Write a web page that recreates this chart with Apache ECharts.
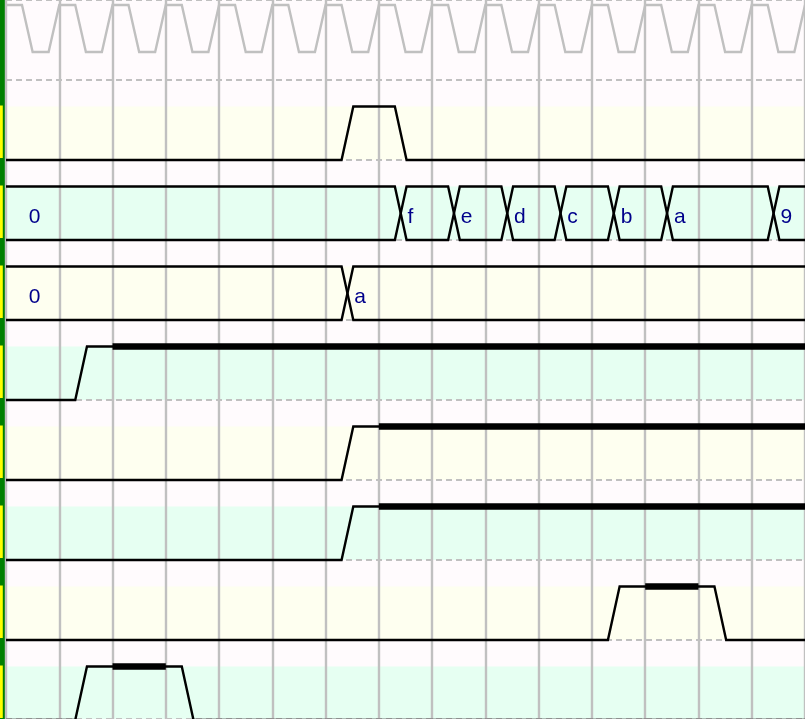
<!DOCTYPE html>
<html><head><meta charset="utf-8">
<script src="https://cdn.jsdelivr.net/npm/echarts@6/dist/echarts.min.js"></script>
<style>html,body{margin:0;padding:0;background:#fffbfd}#c{width:805px;height:719px}</style>
</head><body><div id="c"></div>
<script>
// ---------------- data ----------------
const clockEdges = [0,0.5,1,1.5,2,2.5,3,3.5,4,4.5,5,5.5,6,6.5,7,7.5,8,8.5,9,9.5,10,10.5,11,11.5,12,12.5,13,13.5,14,14.5];
const pulseEdges = [6, 7];
const busATimes  = [7, 8, 9, 10, 11, 12, 14];
const busALabels = ['0', 'f', 'e', 'd', 'c', 'b', 'a', '9'];
const busBTimes  = [6];
const busBLabels = ['0', 'a'];
const wire4Edges = [1];      const wire4Thick = [[2, 15]];
const wire5Edges = [6];      const wire5Thick = [[7, 15]];
const wire6Edges = [6];      const wire6Thick = [[7, 15]];
const wire7Edges = [11, 13]; const wire7Thick = [[12, 13]];
const wire8Edges = [1, 3];   const wire8Thick = [[2, 3]];
const bandRows = [1, 2, 3, 4, 5, 6, 7, 8];

// ---------------- layout / style ----------------
const T_END = 15;
const HIGH = 26.5 / 80, LOW = 1.0;
const CLK_HIGH = 5 / 80, CLK_LOW = 52 / 80;
const T0 = 0.3, TW = 0.22, TWC = 0.2;
const FIRST_LABEL_T = 0.41;
const bandColors = ['#fefff0', '#e6fff2'];
const ink = '#000000';
const THIN = 2.4, THICK = 6.5;

function yOf(row, lv) { return row + (lv ? HIGH : LOW); }

function wirePts(row, edges, init) {
  let lv = init || 0;
  const pts = [[0, yOf(row, lv)]];
  edges.forEach(e => {
    pts.push([e + T0, yOf(row, lv)]);
    lv ^= 1;
    pts.push([e + T0 + TW, yOf(row, lv)]);
  });
  pts.push([T_END, yOf(row, lv)]);
  return pts;
}
function clockPts(edges) {
  let lv = 1;
  const cy = l => l ? CLK_HIGH : CLK_LOW;
  const pts = [[0, cy(lv)]];
  edges.forEach(e => {
    pts.push([e + T0, cy(lv)]);
    lv ^= 1;
    pts.push([e + T0 + TWC, cy(lv)]);
  });
  pts.push([T_END, cy(lv)]);
  return pts;
}

const series = [];
// bands
series.push({
  type: 'custom', z: -1, silent: true, xAxisIndex: 0, yAxisIndex: 0,
  data: bandRows.map(r => [r]),
  renderItem(params, api) {
    const r = api.value(0);
    const p0 = api.coord([0, r + HIGH]);
    const p1 = api.coord([T_END, r + LOW]);
    return { type: 'rect', shape: { x: p0[0], y: p0[1], width: p1[0] - p0[0], height: p1[1] - p0[1] },
      style: { fill: bandColors[(r - 1) % 2] } };
  }
});
// left bar
series.push({
  type: 'custom', z: -1, silent: true, xAxisIndex: 1, yAxisIndex: 1,
  data: [[-1]].concat(bandRows.map(r => [r])),
  renderItem(params, api) {
    const r = api.value(0);
    if (r < 0) {
      const a = api.coord([0, 0]), b = api.coord([6, 719 / 80]);
      return { type: 'rect', shape: { x: a[0], y: a[1], width: b[0] - a[0], height: b[1] - a[1] }, style: { fill: '#008000' } };
    }
    const a = api.coord([0, r + HIGH - 1 / 80]), b = api.coord([2.8, r + LOW - 2 / 80]);
    return { type: 'rect', shape: { x: a[0], y: a[1], width: b[0] - a[0], height: b[1] - a[1] }, style: { fill: '#ffff00' } };
  }
});
// clock
series.push({ type: 'line', data: clockPts(clockEdges), symbol: 'none', silent: true,
  lineStyle: { color: '#c0c0c0', width: THIN, join: 'miter' } });
// wires
const wires = [[1, pulseEdges, []], [4, wire4Edges, wire4Thick], [5, wire5Edges, wire5Thick],
  [6, wire6Edges, wire6Thick], [7, wire7Edges, wire7Thick], [8, wire8Edges, wire8Thick]];
wires.forEach(([row, edges, thick]) => {
  series.push({ type: 'line', data: wirePts(row, edges, 0), symbol: 'none', silent: true,
    lineStyle: { color: ink, width: THIN, join: 'miter' } });
  thick.forEach(([a, b]) => {
    series.push({ type: 'line', data: [[a, yOf(row, 1)], [b, yOf(row, 1)]], symbol: 'none', silent: true,
      lineStyle: { color: ink, width: THICK, cap: 'butt' } });
  });
});
// buses
function busSegs(row, times, labels) {
  const segs = [];
  for (let i = 0; i < labels.length; i++) {
    segs.push({ row, s: i === 0 ? null : times[i - 1], e: i < times.length ? times[i] : null, label: labels[i] });
  }
  return segs;
}
const segs = busSegs(2, busATimes, busALabels).concat(busSegs(3, busBTimes, busBLabels));
const lineSt = { stroke: ink, lineWidth: THIN, fill: null, lineJoin: 'miter' };
series.push({
  type: 'custom', silent: true, clip: true,
  data: segs.map(s => [s.s == null ? 0 : s.s, s.e == null ? T_END : s.e, s.row]),
  renderItem(params, api) {
    const sg = segs[params.dataIndex];
    const top = sg.row + HIGH, bot = sg.row + LOW, mid = (top + bot) / 2;
    const children = [];
    if (sg.e == null) {
      const pts = [[T_END, top], [sg.s + T0 + TW, top], [sg.s + T0 + TW / 2, mid], [sg.s + T0 + TW, bot], [T_END, bot]];
      children.push({ type: 'polyline', shape: { points: pts.map(p => api.coord(p)) }, style: lineSt });
    } else if (sg.s == null) {
      const pts = [[0, top], [sg.e + T0, top], [sg.e + T0 + TW / 2, mid], [sg.e + T0, bot], [0, bot]];
      children.push({ type: 'polyline', shape: { points: pts.map(p => api.coord(p)) }, style: lineSt });
    } else {
      const pts = [[sg.s + T0 + TW, top], [sg.e + T0, top], [sg.e + T0 + TW / 2, mid], [sg.e + T0, bot],
                   [sg.s + T0 + TW, bot], [sg.s + T0 + TW / 2, mid]];
      children.push({ type: 'polygon', shape: { points: pts.map(p => api.coord(p)) }, style: lineSt });
    }
    const lx = sg.s == null ? FIRST_LABEL_T : sg.s + T0 + TW;
    const lp = api.coord([lx, top]);
    children.push({ type: 'text', style: { text: sg.label, x: lp[0] + 1, y: lp[1] + 31, fill: '#00008b',
      font: '21px "Liberation Sans", Arial, sans-serif', align: 'left', verticalAlign: 'middle' } });
    return { type: 'group', children };
  }
});

const chart = echarts.init(document.getElementById('c'), null, { renderer: 'canvas' });
chart.setOption({
  animation: false,
  backgroundColor: '#fffbfd',
  grid: [
    { left: 6, top: 0, width: 800, height: 719, containLabel: false },
    { left: 0, top: 0, width: 6, height: 719, containLabel: false }
  ],
  xAxis: [
    { type: 'value', gridIndex: 0, min: 0, max: T_END, interval: 1,
      axisLine: { show: false }, axisTick: { show: false }, axisLabel: { show: false },
      splitLine: { show: true, showMinLine: true, showMaxLine: true, lineStyle: { color: '#c0c0c0', width: THIN } } },
    { type: 'value', gridIndex: 1, min: 0, max: 6, show: false, splitLine: { show: false } }
  ],
  yAxis: [
    { type: 'value', gridIndex: 0, min: 0, max: 719 / 80, interval: 1, inverse: true,
      axisLine: { show: false }, axisTick: { show: false }, axisLabel: { show: false },
      splitLine: { show: true, lineStyle: { color: '#c0c0c0', width: 2, type: [6, 4] } } },
    { type: 'value', gridIndex: 1, min: 0, max: 719 / 80, inverse: true, show: false, splitLine: { show: false } }
  ],
  series
});
</script></body></html>
